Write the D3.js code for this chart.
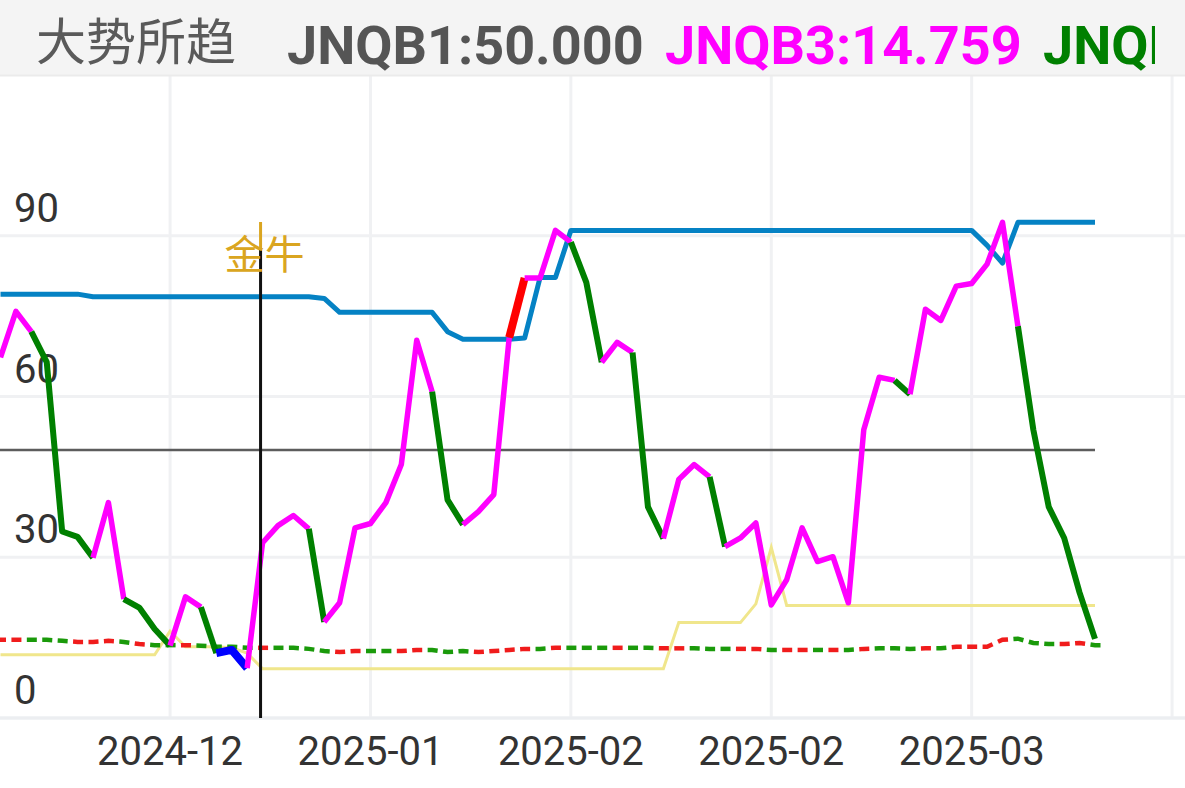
<!DOCTYPE html>
<html>
<head>
<meta charset="utf-8">
<script src="https://cdn.jsdelivr.net/npm/d3@7"></script>
<style>
  html, body { margin: 0; padding: 0; background: #fff; }
  svg { display: block; }
  .ylab, .xlab { font-family: Roboto, "Noto Sans", sans-serif; font-size: 40px; fill: #333; }
</style>
</head>
<body>
<div id="chart"></div>
<script>
// main line JNQB3
let jnqb3 = [67.3, 75.9, 72.1, 66.4, 34.8, 33.8, 29.9, 40.2, 22.2, 20.6,
  16.6, 13.5, 22.6, 20.7, 12.1, 12.7, 9.3, 32.7, 35.9, 37.8,
  35.3, 17.9, 21.5, 35.5, 36.3, 40.2, 47.3, 70.5, 60.9, 40.7,
  36.1, 38.5, 41.7, 71.0, 82.1, 82.1, 91.0, 88.8, 81.3, 66.4,
  70.1, 68.2, 39.4, 33.5, 44.5, 47.3, 45.0, 32.0, 33.6, 36.4,
  21.1, 25.8, 35.5, 29.2, 30.1, 21.5, 53.8, 63.6, 63.0, 60.4,
  76.3, 74.2, 80.6, 81.1, 84.7, 92.5, 73.1, 53.8, 39.4, 33.6,
  23.4, 14.759]
// colour of the segment that ends at each point: m magenta, g green, r red, b blue
let jnqb3Color = ["m","m","m","g","g","g","g","m","m","g",
  "g","g","m","m","g","b","b","m","m","m",
  "m","g","m","m","m","m","m","m","m","g",
  "g","m","m","m","r","m","m","m","g","g",
  "m","m","g","g","m","m","m","g","m","m",
  "m","m","m","m","m","m","m","m","m","g",
  "m","m","m","m","m","m","m","g","g","g",
  "g","g"]

// blue upper line
let blueLine = [79.1, 79.1, 79.1, 79.1, 79.1, 79.1, 78.6, 78.6, 78.6, 78.6,
  78.6, 78.6, 78.6, 78.6, 78.6, 78.6, 78.6, 78.6, 78.6, 78.6,
  78.6, 78.3, 75.7, 75.7, 75.7, 75.7, 75.7, 75.7, 75.7, 72.1,
  70.7, 70.7, 70.7, 70.7, 70.9, 82.2, 82.2, 91.0, 91.0, 91.0,
  91.0, 91.0, 91.0, 91.0, 91.0, 91.0, 91.0, 91.0, 91.0, 91.0,
  91.0, 91.0, 91.0, 91.0, 91.0, 91.0, 91.0, 91.0, 91.0, 91.0,
  91.0, 91.0, 91.0, 91.0, 88.2, 84.9, 92.5, 92.5, 92.5, 92.5,
  92.5, 92.5]

// thin khaki line
let khakiLine = [11.8, 11.8, 11.8, 11.8, 11.8, 11.8, 11.8, 11.8, 11.8, 11.8,
  11.8, 16.2, 13.3, 13.3, 13.3, 13.1, 12.1, 9.2, 9.2, 9.2,
  9.2, 9.2, 9.2, 9.2, 9.2, 9.2, 9.2, 9.2, 9.2, 9.2,
  9.2, 9.2, 9.2, 9.2, 9.2, 9.2, 9.2, 9.2, 9.2, 9.2,
  9.2, 9.2, 9.2, 9.2, 17.8, 17.8, 17.8, 17.8, 17.8, 21.3,
  31.8, 21.0, 21.0, 21.0, 21.0, 21.0, 21.0, 21.0, 21.0, 21.0,
  21.0, 21.0, 21.0, 21.0, 21.0, 21.0, 21.0, 21.0, 21.0, 21.0,
  21.0, 21.0]

// dashed line, one dash per point, r red / g green
let dashLine = [14.6, 14.6, 14.6, 14.6, 14.4, 14.2, 14.2, 14.4, 14.2, 13.8,
  13.6, 13.6, 13.6, 13.5, 13.3, 13.3, 13.1, 13.1, 13.1, 13.1,
  12.9, 12.5, 12.3, 12.5, 12.5, 12.5, 12.5, 12.7, 12.7, 12.3,
  12.5, 12.3, 12.5, 12.7, 12.9, 12.9, 13.1, 13.1, 13.1, 13.1,
  13.1, 13.1, 13.1, 13.0, 13.0, 13.0, 12.9, 12.9, 12.9, 12.9,
  12.7, 12.7, 12.7, 12.7, 12.7, 12.7, 12.9, 13.0, 13.0, 12.9,
  13.0, 13.0, 13.3, 13.3, 13.3, 14.6, 14.8, 14.0, 13.8, 13.8,
  14.0, 13.6]
let dashColor = ["r","r","g","g","g","r","r","r","g","r",
  "g","g","r","g","g","g","g","r","g","g",
  "g","g","r","r","g","g","r","r","g","g",
  "g","r","r","r","r","g","r","g","g","g",
  "r","g","g","r","r","g","g","g","r","r",
  "g","r","r","g","r","g","r","g","g","g",
  "r","g","r","r","r","r","g","g","g","r",
  "r","g"]

let jnqb1 = 50
let yTicks = [0, 30, 60, 90]
let xTickIndex = [11, 24, 37, 50, 63, 76]
let xTickLabels = ["2024-12", "2025-01", "2025-02", "2025-02", "2025-03", ""]
let signalIndex = 17
let signalLabel = "金牛"

let W = 1185, H = 788
let svg = d3.select("#chart").append("svg").attr("width", W).attr("height", H)

let x = d3.scaleLinear().domain([0, 71]).range([0.5, 1095])
let y = d3.scaleLinear().domain([0, 120]).range([718, 75])

let segColors = { m: "#ff00ff", g: "#008000", r: "#ff0000", b: "#0000ff" }
let segWidth = { m: 5.5, g: 6, r: 8, b: 8 }
let dashColors = { r: "#f01c1c", g: "#1a9a0a" }

// grid
svg.append("g").selectAll("line").data(yTicks).join("line")
  .attr("x1", 0).attr("x2", W).attr("y1", d => y(d)).attr("y2", d => y(d))
  .attr("stroke", "#f0f1f3").attr("stroke-width", 3)
svg.append("g").selectAll("line").data(xTickIndex).join("line")
  .attr("x1", d => x(d)).attr("x2", d => x(d)).attr("y1", 75).attr("y2", y(0))
  .attr("stroke", "#f0f1f3").attr("stroke-width", 3)
svg.append("line").attr("x1", 0).attr("x2", W).attr("y1", y(0)).attr("y2", y(0))
  .attr("stroke", "#eceef1").attr("stroke-width", 3)

// y labels
svg.append("g").selectAll("text").data(yTicks).join("text")
  .attr("class", "ylab").attr("x", 14).attr("y", d => y(d) - 14).text(d => d)

// x labels
svg.append("g").selectAll("text").data(xTickIndex).join("text")
  .attr("class", "xlab").attr("x", d => x(d)).attr("y", 765)
  .attr("text-anchor", "middle").text((d, i) => xTickLabels[i])

let line = d3.line().x((d, i) => x(i)).y(d => y(d))

// JNQB1 level
svg.append("line").attr("x1", x(0) - 1).attr("x2", x(71)).attr("y1", y(jnqb1)).attr("y2", y(jnqb1))
  .attr("stroke", "#5c5c5c").attr("stroke-width", 2.5)

// khaki line
svg.append("path").attr("d", line(khakiLine)).attr("fill", "none")
  .attr("stroke", "#f0e68c").attr("stroke-width", 3)

// dashed line, each dash around its point
let interp = (i, off) => {
  let j = off < 0 ? Math.max(i - 1, 0) : Math.min(i + 1, dashLine.length - 1)
  if (j === i) return y(dashLine[i])
  let t = Math.abs(off) / Math.abs(x(j) - x(i))
  return y(dashLine[i] + (dashLine[j] - dashLine[i]) * t)
}
svg.append("g").selectAll("path").data(dashLine).join("path")
  .attr("d", (d, i) => d3.line()([[x(i) - 4.5, interp(i, -4.5)], [x(i), y(d)], [x(i) + 5.5, interp(i, 5.5)]]))
  .attr("fill", "none").attr("stroke-width", 4.5)
  .attr("stroke", (d, i) => dashColors[dashColor[i]])

// blue line
svg.append("path").attr("d", line(blueLine)).attr("fill", "none")
  .attr("stroke", "#0582c4").attr("stroke-width", 5).attr("stroke-linejoin", "round")

// main line: group runs of the same colour
let runs = []
for (let i = 1; i < jnqb3.length; i++) {
  let c = jnqb3Color[i]
  if (runs.length && runs[runs.length - 1].c === c && runs[runs.length - 1].end === i - 1) {
    runs[runs.length - 1].end = i
  } else {
    runs.push({ c: c, start: i - 1, end: i })
  }
}
let pline = d3.line().x(d => x(d)).y(d => y(jnqb3[d]))
svg.append("g").selectAll("path").data(runs).join("path")
  .attr("d", r => pline(d3.range(r.start, r.end + 1)))
  .attr("fill", "none").attr("stroke-linejoin", "round")
  .attr("stroke", r => segColors[r.c]).attr("stroke-width", r => segWidth[r.c])

// signal marker
svg.append("line").attr("x1", x(signalIndex) - 2).attr("x2", x(signalIndex) - 2)
  .attr("y1", 250).attr("y2", y(0)).attr("stroke", "#111").attr("stroke-width", 3)
svg.append("line").attr("x1", x(signalIndex) - 2).attr("x2", x(signalIndex) - 2)
  .attr("y1", 222).attr("y2", 250).attr("stroke", "#daa520").attr("stroke-width", 3)
svg.append("text").attr("x", x(signalIndex) + 2).attr("y", 269).attr("text-anchor", "middle")
  .style("font-family", "'Noto Sans CJK SC', sans-serif").style("font-size", "40px")
  .style("fill", "#daa520").text(signalLabel)

// header
svg.append("rect").attr("x", 0).attr("y", 0).attr("width", W).attr("height", 75).attr("fill", "#f4f4f4")
svg.append("line").attr("x1", 0).attr("x2", W).attr("y1", 75.5).attr("y2", 75.5)
  .attr("stroke", "#ebebeb").attr("stroke-width", 2)
svg.append("clipPath").attr("id", "hclip").append("rect")
  .attr("x", 0).attr("y", 0).attr("width", 1155).attr("height", 75)
let header = svg.append("g").attr("clip-path", "url(#hclip)")
header.append("text").attr("x", 36).attr("y", 60)
  .style("font-family", "'Noto Sans CJK SC', sans-serif").style("font-size", "50px")
  .style("fill", "#5a5a5a").text("大势所趋")
header.append("text").attr("x", 287).attr("y", 64)
  .style("font-family", "Roboto, sans-serif").style("font-size", "54px").style("font-weight", "bold")
  .style("fill", "#555").text("JNQB1:" + jnqb1.toFixed(3))
header.append("text").attr("x", 665).attr("y", 64)
  .style("font-family", "Roboto, sans-serif").style("font-size", "54px").style("font-weight", "bold")
  .style("fill", "#ff00ff").text("JNQB3:" + jnqb3[jnqb3.length - 1].toFixed(3))
// third header entry runs off the panel, as in the app
header.append("text").attr("x", 1043).attr("y", 64)
  .style("font-family", "Roboto, sans-serif").style("font-size", "54px").style("font-weight", "bold")
  .style("fill", "#008000").text("JNQB")
</script>
</body>
</html>
